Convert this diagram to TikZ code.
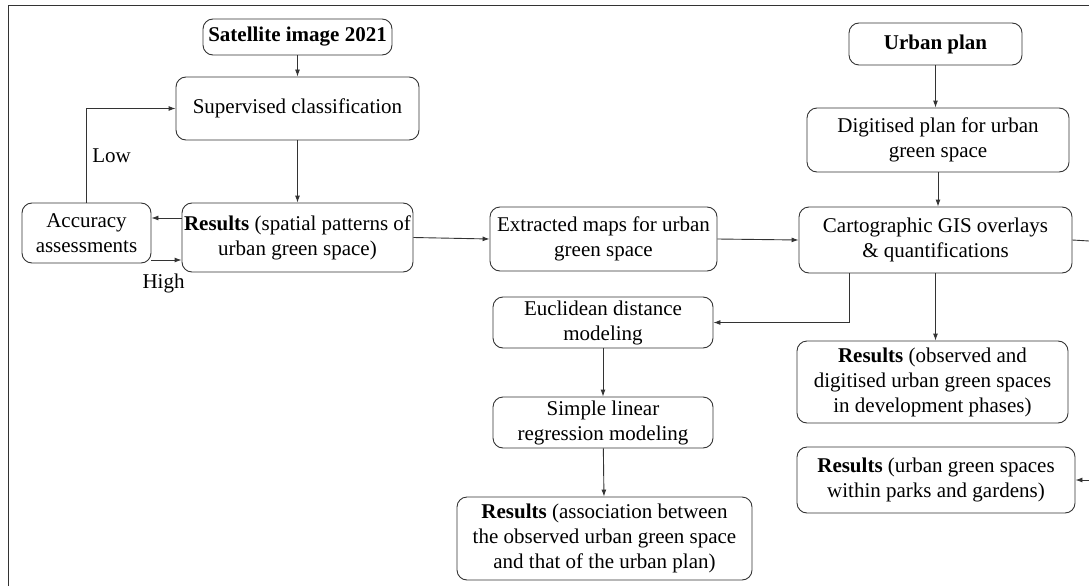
\documentclass[tikz,border=0pt]{standalone}
\usepackage{fontspec}
\setmainfont{Liberation Serif}
\usetikzlibrary{arrows.meta,positioning}
\tikzset{
  box/.style={draw=black!80, line width=0.9pt, rounded corners=10pt, align=center,
    inner sep=0pt, font=\fontsize{21}{25}\selectfont},
  arr/.style={-{Latex[length=7pt,width=5pt]}, draw=black!80, line width=0.9pt},
  ln/.style={draw=black!80, line width=0.9pt},
  lbl/.style={font=\fontsize{21}{25}\selectfont}
}

\begin{document}
\begin{tikzpicture}[x=1pt,y=-1pt]
\useasboundingbox (0,0) rectangle (1089,586);
% frame
\draw[ln] (8,586) |- (1089,5);

% left column
\node[box, minimum width=189pt, minimum height=36pt] (sat) at (297.5,37) {\textbf{Satellite image 2021}};
\node[box, minimum width=243pt, minimum height=63pt] (sup) at (297.5,108.5) {Supervised classification};
\node[box, minimum width=231pt, minimum height=69pt] (res1) at (297.5,237.5) {\textbf{Results} (spatial patterns of\\urban green space)};
\node[box, minimum width=129pt, minimum height=60pt] (acc) at (86.5,233) {Accuracy\\assessments};

% middle column
\node[box, minimum width=227pt, minimum height=64pt] (ext) at (603.5,239) {Extracted maps for urban\\green space};
\node[box, minimum width=220pt, minimum height=51pt] (eucl) at (603,322.5) {Euclidean distance\\modeling};
\node[box, minimum width=220pt, minimum height=51pt] (slr) at (603,422.5) {Simple linear\\regression modeling};
\node[box, minimum width=295pt, minimum height=83pt] (res4) at (604.5,538.5) {\textbf{Results} (association between\\the observed urban green space\\and that of the urban plan)};

% right column
\node[box, minimum width=173pt, minimum height=42pt] (plan) at (935.5,44) {\textbf{Urban plan}};
\node[box, minimum width=262pt, minimum height=64pt] (digi) at (938,140) {Digitised plan for urban\\green space};
\node[box, minimum width=273pt, minimum height=66pt] (carto) at (935.5,240) {Cartographic GIS overlays\\\& quantifications};
\node[box, minimum width=271pt, minimum height=82pt] (res2) at (932.5,382) {\textbf{Results} (observed and\\digitised urban green spaces\\in development phases)};
\node[box, minimum width=278pt, minimum height=66pt] (res3) at (936,480) {\textbf{Results} (urban green spaces\\within parks and gardens)};

\coordinate (outA) at (1089,241);
\coordinate (outB) at (1089,480);

% connectors
\draw[arr] (sat) -- (sup);
\draw[arr] (sup) -- (res1);
\draw[arr] ([yshift=19.5pt]res1.west) -- ([yshift=19.5pt]res1.west -| acc.east);
\draw[arr] ([yshift=-27pt]acc.east) -- node[lbl, below=10pt, xshift=-3pt] {High} ([yshift=-27pt]acc.east -| res1.west);
\draw[arr] (acc.north) |- node[lbl, pos=0.25, right=2pt] {Low} (sup.west);
\draw[arr] (res1.east) -- (ext.west);
\draw[arr] (ext.east) -- (carto.west);
\draw[arr] (plan) -- (plan.south |- digi.north);
\draw[arr] (digi.south) -- (digi.south |- carto.north);
\draw[arr] ([xshift=-86.5pt]carto.south) |- (eucl.east);
\draw[arr] (carto.south) -- (carto.south |- res2.north);
\draw[arr] (eucl) -- (slr);
\draw[arr] (slr) -- (res4);
\draw[ln] (carto.east) -- (outA);
\draw[arr] (outB) -- (res3.east);
\end{tikzpicture}
\end{document}
